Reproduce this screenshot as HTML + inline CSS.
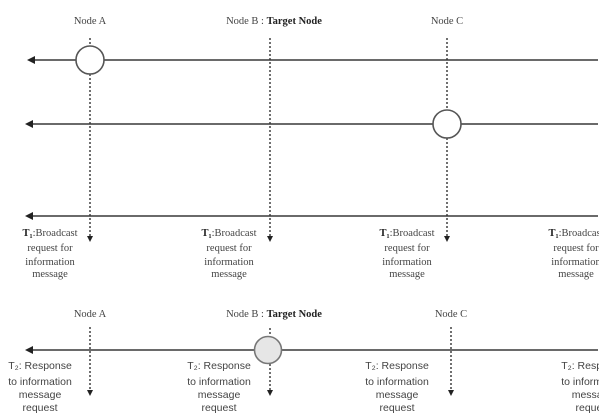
<!DOCTYPE html>
<html><head><style>
html,body{margin:0;padding:0;background:#fff;width:606px;height:417px;overflow:hidden}
svg text{font-family:"Liberation Serif",serif;fill:#444}
.s{font-family:"Liberation Sans",sans-serif !important}
</style></head><body>
<svg width="606" height="417" viewBox="0 0 606 417" xmlns="http://www.w3.org/2000/svg">
<defs>
<clipPath id="c"><rect x="0" y="0" width="599" height="417"/></clipPath>
</defs>
<g stroke="#555" stroke-width="1.8" fill="none">
<line x1="598" y1="60" x2="32" y2="60"/>
<line x1="598" y1="124" x2="32" y2="124"/>
<line x1="598" y1="216" x2="32" y2="216"/>
<line x1="598" y1="350" x2="32" y2="350"/>
</g>
<g fill="#222">
<path d="M27,60 L35,56 L35,64 Z"/>
<path d="M25,124 L33,120 L33,128 Z"/>
<path d="M25,216 L33,212 L33,220 Z"/>
<path d="M25,350 L33,346 L33,354 Z"/>
</g>
<g stroke="#333" stroke-width="1.4" stroke-dasharray="2,2" fill="none">
<line x1="90" y1="38" x2="90" y2="236"/>
<line x1="270" y1="38" x2="270" y2="236"/>
<line x1="447" y1="38" x2="447" y2="236"/>
<line x1="90" y1="327" x2="90" y2="390"/>
<line x1="270" y1="328" x2="270" y2="390"/>
<line x1="451" y1="327" x2="451" y2="390"/>
</g>
<g fill="#222">
<path d="M87,236 L93,236 L90,242 Z"/>
<path d="M267,236 L273,236 L270,242 Z"/>
<path d="M444,236 L450,236 L447,242 Z"/>
<path d="M87,390 L93,390 L90,396 Z"/>
<path d="M267,390 L273,390 L270,396 Z"/>
<path d="M448,390 L454,390 L451,396 Z"/>
</g>
<circle cx="90" cy="60" r="14" fill="#fff" stroke="#555" stroke-width="1.6"/>
<circle cx="447" cy="124" r="14" fill="#fff" stroke="#555" stroke-width="1.6"/>
<circle cx="268" cy="350" r="13.5" fill="#e6e6e6" stroke="#777" stroke-width="1.6"/>
<g font-size="10.5" text-anchor="middle">
<text x="90" y="24">Node A</text>
<text x="274" y="24">Node B : <tspan font-weight="bold" fill="#222">Target Node</tspan></text>
<text x="447" y="24">Node C</text>
<text x="90" y="317">Node A</text>
<text x="274" y="317">Node B : <tspan font-weight="bold" fill="#222">Target Node</tspan></text>
<text x="451" y="317">Node C</text>
</g>
<g clip-path="url(#c)" font-size="10.5" text-anchor="middle">
<g transform="translate(50,0)"><text y="236"><tspan font-weight="bold" fill="#222">T₁</tspan>:Broadcast</text><text y="251">request for</text><text y="265">information</text><text y="277">message</text></g>
<g transform="translate(229,0)"><text y="236"><tspan font-weight="bold" fill="#222">T₁</tspan>:Broadcast</text><text y="251">request for</text><text y="265">information</text><text y="277">message</text></g>
<g transform="translate(407,0)"><text y="236"><tspan font-weight="bold" fill="#222">T₁</tspan>:Broadcast</text><text y="251">request for</text><text y="265">information</text><text y="277">message</text></g>
<g transform="translate(576,0)"><text y="236"><tspan font-weight="bold" fill="#222">T₁</tspan>:Broadcast</text><text y="251">request for</text><text y="265">information</text><text y="277">message</text></g>
</g>
<g clip-path="url(#c)" font-size="10.5" text-anchor="middle">
<g transform="translate(40,0)"><text class="s" y="369">T₂: Response</text><text class="s" y="385">to information</text><text class="s" y="398">message</text><text class="s" y="411">request</text></g>
<g transform="translate(219,0)"><text class="s" y="369">T₂: Response</text><text class="s" y="385">to information</text><text class="s" y="398">message</text><text class="s" y="411">request</text></g>
<g transform="translate(397,0)"><text class="s" y="369">T₂: Response</text><text class="s" y="385">to information</text><text class="s" y="398">message</text><text class="s" y="411">request</text></g>
<g transform="translate(593,0)"><text class="s" y="369">T₂: Response</text><text class="s" y="385">to information</text><text class="s" y="398">message</text><text class="s" y="411">request</text></g>
</g>
</svg>
</body></html>
